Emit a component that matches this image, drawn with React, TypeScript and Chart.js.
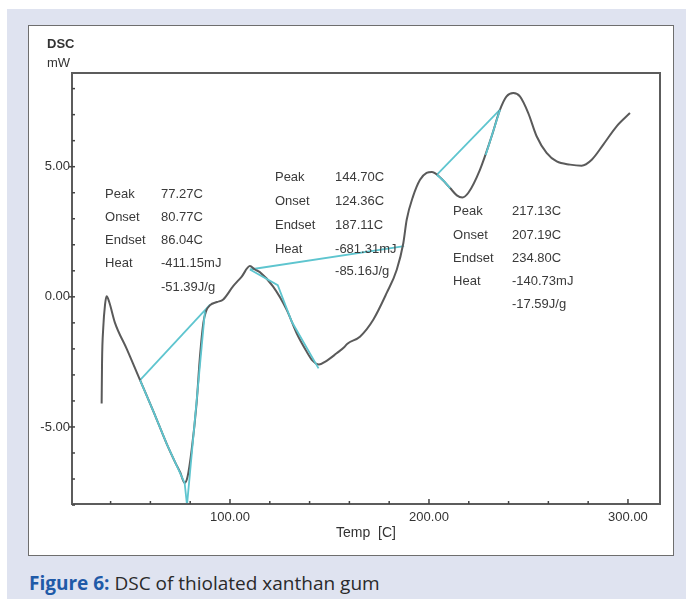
import React, { useEffect, useRef } from "react";
import { Chart, registerables } from "chart.js";

Chart.register(...registerables);

// ---- data ----
const curveTemp = [
  35.5, 35.7, 36.3, 37.2, 38.0, 39.3, 42.2, 48.1, 54.8, 61.5, 68.2, 72.4, 75.0, 77.2, 78.7, 80.7, 83.2, 84.9,
  86.6, 88.0, 90.0, 93.5, 96.6, 101.5, 105.9, 110.0, 112.5, 115.0, 121.6, 128.5, 133.5, 138.5, 141.5, 144.7,
  147.7, 153.6, 157.5, 159.0, 165.3, 172.0, 178.7, 183.8, 187.1, 188.8, 192.0, 195.5, 198.8, 201.5, 204.7,
  210.6, 214.0, 216.8, 219.8, 225.6, 231.5, 235.7, 239.0, 242.4, 245.7, 249.9, 254.1, 259.1, 264.2, 270.9,
  276.7, 281.8, 287.6, 294.3, 301.0,
];
const curveDsc = [
  -4.1, -2.5, -1.2, -0.3, 0.02, -0.2, -1.0, -2.0, -3.2, -4.4, -5.65, -6.35, -6.75, -7.15, -6.9, -5.9, -4.1, -2.3,
  -1.0, -0.55, -0.32, -0.2, -0.1, 0.4, 0.78, 1.18, 1.05, 0.95, 0.4, -0.5, -1.4, -2.1, -2.45, -2.6,
  -2.5, -2.17, -1.93, -1.8, -1.53, -0.88, 0.14, 1.04, 2.06, 2.96, 3.86, 4.5, 4.76, 4.8, 4.65,
  4.18, 3.9, 3.82, 4.0, 4.88, 6.17, 7.19, 7.7, 7.83, 7.7, 7.06, 6.17, 5.53, 5.2, 5.08,
  5.04, 5.27, 5.85, 6.55, 7.06,
];

// analysis (baseline / tangent) lines
const base1Temp = [54.8, 90.0];
const base1Dsc = [-3.2, -0.3];
const tanL1Temp = [54.8, 61.5, 68.2, 72.4, 77.2, 78.4];
const tanL1Dsc = [-3.2, -4.4, -5.65, -6.35, -7.15, -8.0];
const tanR1Temp = [87.4, 78.4];
const tanR1Dsc = [-0.56, -8.0];
const base2Temp = [110.0, 187.5];
const base2Dsc = [1.05, 1.95];
const tan2Temp = [110.0, 124.0, 131.0, 144.5];
const tan2Dsc = [1.05, 0.45, -0.95, -2.75];
const base3Temp = [203.9, 235.7];
const base3Dsc = [4.69, 7.19];
const seg3aTemp = [203.9, 207.5, 210.6];
const seg3aDsc = [4.69, 4.45, 4.18];
const seg3bTemp = [228.5, 235.7];
const seg3bDsc = [5.45, 7.19];

const xTicks = [40, 60, 80, 100, 120, 140, 160, 180, 200, 220, 240, 260, 280, 300];
const xLabelled = [100, 200, 300];
const yTicks = [-8, -7, -6, -5, -4, -3, -2, -1, 0, 1, 2, 3, 4, 5, 6, 7, 8];
const yLabelled = [-5, 0, 5];

const rowNames = ["Peak", "Onset", "Endset", "Heat", ""];
const block1Values = ["77.27C", "80.77C", "86.04C", "-411.15mJ", "-51.39J/g"];
const block2Values = ["144.70C", "124.36C", "187.11C", "-681.31mJ", "-85.16J/g"];
const block3Values = ["217.13C", "207.19C", "234.80C", "-140.73mJ", "-17.59J/g"];

const GRAY = "#5a5a5a";
const CYAN = "#5ec5cf";
const FONT = "Arial, 'Liberation Sans', Helvetica, sans-serif";

function pts(xs: number[], ys: number[]) {
  return xs.map((x, i) => ({ x, y: ys[i] }));
}

export default function App() {
  const ref = useRef<HTMLCanvasElement | null>(null);

  useEffect(() => {
    if (!ref.current) return;

    const blocks = [
      { labelX: 37.2, valueX: 65.3, rows: [3.92, 3.04, 2.15, 1.27, 0.38], values: block1Values },
      { labelX: 122.6, valueX: 152.8, rows: [4.58, 3.65, 2.73, 1.81, 0.96], values: block2Values },
      { labelX: 212.1, valueX: 241.7, rows: [3.27, 2.35, 1.46, 0.58, -0.31], values: block3Values },
    ];

    const overlay = {
      id: "dscOverlay",
      afterDraw(chart: any) {
        const { ctx, chartArea } = chart;
        const xs = chart.scales.x;
        const ys = chart.scales.y;
        ctx.save();
        // frame
        ctx.strokeStyle = "#5c5c5c";
        ctx.lineWidth = 2;
        ctx.strokeRect(chartArea.left, chartArea.top, chartArea.right - chartArea.left, chartArea.bottom - chartArea.top);
        // ticks
        ctx.lineWidth = 1.5;
        ctx.strokeStyle = "#444";
        xs.ticks.forEach((t: any) => {
          const px = xs.getPixelForValue(t.value);
          const major = xLabelled.includes(t.value);
          ctx.beginPath();
          ctx.moveTo(px, chartArea.bottom);
          ctx.lineTo(px, chartArea.bottom - (major ? 5 : 3));
          ctx.stroke();
        });
        ys.ticks.forEach((t: any) => {
          const py = ys.getPixelForValue(t.value);
          const major = yLabelled.includes(t.value);
          ctx.beginPath();
          ctx.moveTo(chartArea.left - (major ? 3 : 0), py);
          ctx.lineTo(chartArea.left + 3, py);
          ctx.stroke();
        });
        // axis captions
        ctx.fillStyle = "#333";
        ctx.textAlign = "left";
        ctx.textBaseline = "alphabetic";
        ctx.font = "bold 13px " + FONT;
        ctx.fillText("DSC", 19, 23);
        ctx.font = "13px " + FONT;
        ctx.fillText("mW", 19, 42);
        // annotations
        ctx.fillStyle = "#3a3a3a";
        ctx.font = "13px " + FONT;
        ctx.textBaseline = "middle";
        blocks.forEach((b) => {
          b.rows.forEach((r, i) => {
            const py = ys.getPixelForValue(r);
            if (rowNames[i]) ctx.fillText(rowNames[i], xs.getPixelForValue(b.labelX), py);
            ctx.fillText(b.values[i], xs.getPixelForValue(b.valueX), py);
          });
        });
        ctx.restore();
      },
    };

    const cyanSet = (xs: number[], ys: number[], order: number) => ({
      data: pts(xs, ys),
      showLine: true,
      borderColor: CYAN,
      borderWidth: 1.8,
      pointRadius: 0,
      tension: 0,
      order,
    });

    const chart = new Chart(ref.current, {
      type: "scatter",
      data: {
        datasets: [
          cyanSet(base1Temp, base1Dsc, 2),
          cyanSet(tanR1Temp, tanR1Dsc, 0),
          cyanSet(base2Temp, base2Dsc, 2),
          cyanSet(tan2Temp, tan2Dsc, 0),
          cyanSet(base3Temp, base3Dsc, 2),
          {
            data: pts(curveTemp, curveDsc),
            showLine: true,
            borderColor: GRAY,
            borderWidth: 2,
            pointRadius: 0,
            cubicInterpolationMode: "monotone",
            order: 1,
          } as any,
          cyanSet(tanL1Temp, tanL1Dsc, 0),
          cyanSet(seg3aTemp, seg3aDsc, 0),
          cyanSet(seg3bTemp, seg3bDsc, 0),
        ],
      },
      options: {
        animation: false,
        responsive: false,
        events: [],
        layout: { padding: { left: 0, top: 48, right: 14, bottom: 0 } },
        plugins: { legend: { display: false }, tooltip: { enabled: false } },
        scales: {
          x: {
            type: "linear",
            min: 20.6,
            max: 316.1,
            grid: { display: false, drawTicks: false },
            border: { display: false },
            afterBuildTicks: (s: any) => {
              s.ticks = xTicks.map((v) => ({ value: v }));
            },
            afterFit: (s: any) => {
              s.height = 52;
            },
            ticks: {
              autoSkip: false,
              maxRotation: 0,
              padding: 6,
              color: "#333",
              font: { family: FONT, size: 13 },
              callback: (v: any) => (xLabelled.includes(Number(v)) ? Number(v).toFixed(2) : ""),
            },
            title: {
              display: true,
              text: "Temp  [C]",
              color: "#333",
              font: { family: FONT, size: 14 },
              padding: { top: 0, bottom: 14 },
            },
          },
          y: {
            type: "linear",
            min: -7.96,
            max: 8.6,
            grid: { display: false, drawTicks: false },
            border: { display: false },
            afterBuildTicks: (s: any) => {
              s.ticks = yTicks.map((v) => ({ value: v }));
            },
            afterFit: (s: any) => {
              s.width = 44;
            },
            ticks: {
              autoSkip: false,
              padding: 2,
              color: "#333",
              font: { family: FONT, size: 13 },
              callback: (v: any) => (yLabelled.includes(Number(v)) ? Number(v).toFixed(2) : ""),
            },
          },
        },
      },
      plugins: [overlay],
    } as any);

    return () => chart.destroy();
  }, []);

  return (
    <div style={{ position: "absolute", left: 0, top: 0, width: 686, height: 599, background: "#ffffff", overflow: "hidden" }}>
      <div style={{ position: "absolute", left: 7, top: 9, width: 679, height: 590, background: "#dfe3f0" }} />
      <div
        style={{
          position: "absolute",
          left: 28,
          top: 25,
          width: 646,
          height: 531,
          background: "#ffffff",
          border: "1px solid #6e6e6e",
          boxSizing: "border-box",
        }}
      />
      <canvas ref={ref} width={646} height={531} style={{ position: "absolute", left: 28, top: 25, width: 646, height: 531 }} />
      <div
        style={{
          position: "absolute",
          left: 29,
          top: 572,
          lineHeight: "22px",
          fontSize: 19,
          fontFamily: "'Open Sans', 'Noto Sans', sans-serif",
          color: "#2a2a2a",
          whiteSpace: "nowrap",
        }}
      >
        <span style={{ color: "#1f5aa8", fontWeight: 700 }}>Figure 6:</span> DSC of thiolated xanthan gum
      </div>
    </div>
  );
}
